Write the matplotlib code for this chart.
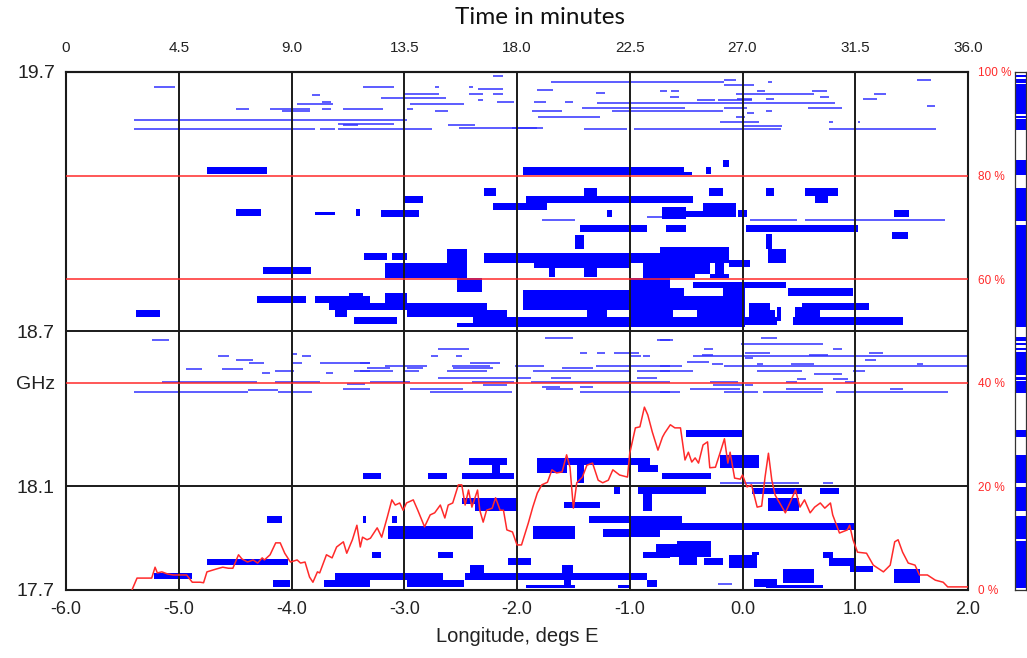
import matplotlib
matplotlib.use('Agg')
import matplotlib.pyplot as plt
import numpy as np

# ---------------- data ----------------
# thick occupancy blocks: (lon_start, lon_end, GHz_low, GHz_high)
upper_bars = [
    (-4.75, -4.22, 19.306, 19.333), (-1.95, -0.52, 19.302, 19.333), (-0.55, -0.45, 19.302, 19.314),
    (-0.32, -0.28, 19.306, 19.333), (-0.17, -0.12, 19.333, 19.360), (-2.29, -2.19, 19.221, 19.252),
    (-1.41, -1.29, 19.221, 19.252), (-0.30, -0.17, 19.221, 19.252), (0.21, 0.28, 19.221, 19.252),
    (0.55, 0.85, 19.221, 19.252), (0.64, 0.76, 19.194, 19.221), (-3.00, -2.83, 19.194, 19.221),
    (-1.92, -0.44, 19.194, 19.221), (-2.21, -1.73, 19.167, 19.194), (-3.21, -2.87, 19.140, 19.167),
    (-4.49, -4.27, 19.144, 19.171), (-3.79, -3.61, 19.148, 19.160), (-3.43, -3.39, 19.144, 19.171),
    (-1.20, -1.16, 19.140, 19.167), (-0.71, -0.50, 19.132, 19.179), (-0.50, -0.35, 19.140, 19.163),
    (-0.35, -0.06, 19.140, 19.194), (-0.04, 0.04, 19.140, 19.167), (1.34, 1.48, 19.140, 19.167),
    (-1.44, -0.85, 19.082, 19.109), (-0.68, -0.50, 19.082, 19.109), (0.03, 1.02, 19.082, 19.109),
    (1.33, 1.47, 19.055, 19.082), (0.21, 0.26, 19.017, 19.075), (0.23, 0.39, 18.963, 19.017),
    (-1.49, -1.41, 19.017, 19.071), (-3.36, -3.15, 18.974, 19.001), (-3.11, -2.98, 18.974, 19.001),
    (-2.62, -2.44, 18.905, 19.017), (-3.17, -2.44, 18.905, 18.963), (-4.25, -3.83, 18.920, 18.947),
    (-2.29, -0.52, 18.963, 19.001), (-0.73, -0.12, 18.963, 19.024), (-0.12, 0.07, 18.947, 18.974),
    (-1.85, -1.00, 18.943, 18.963), (-1.72, -1.66, 18.909, 18.943), (-1.41, -1.29, 18.909, 18.943),
    (-0.88, -0.64, 18.905, 18.963), (-0.64, -0.29, 18.920, 18.963), (-0.24, -0.16, 18.920, 18.963),
    (-0.73, -0.42, 18.905, 18.920), (-0.29, -0.12, 18.905, 18.920), (-2.53, -2.31, 18.851, 18.905),
    (-1.00, -0.64, 18.715, 18.905), (-0.44, 0.39, 18.866, 18.889), (-0.73, 0.02, 18.781, 18.835),
    (-0.73, -0.52, 18.835, 18.866), (-0.17, 0.02, 18.835, 18.866), (-0.73, -0.62, 18.754, 18.781),
    (-0.40, 0.02, 18.754, 18.781), (-0.73, 0.02, 18.715, 18.754), (-1.95, -1.00, 18.781, 18.858),
    (-1.38, -1.20, 18.754, 18.781), (-2.39, -0.64, 18.715, 18.754), (-2.53, -2.39, 18.715, 18.731),
    (-3.39, -2.98, 18.781, 18.808), (-3.17, -2.98, 18.808, 18.847), (-3.06, -2.27, 18.781, 18.808),
    (-2.98, -2.09, 18.754, 18.781), (-3.39, -3.06, 18.727, 18.754), (-4.31, -3.87, 18.808, 18.835),
    (-3.79, -3.30, 18.808, 18.835), (-3.67, -3.30, 18.781, 18.808), (-3.61, -3.51, 18.754, 18.781),
    (-3.49, -3.37, 18.835, 18.847), (-3.45, -3.30, 18.727, 18.754), (-5.38, -5.17, 18.754, 18.781),
    (0.40, 0.98, 18.835, 18.866), (0.06, 0.24, 18.754, 18.808), (0.24, 0.29, 18.723, 18.781),
    (0.31, 0.34, 18.739, 18.793), (0.53, 1.12, 18.781, 18.808), (0.47, 0.69, 18.723, 18.793),
    (0.45, 1.42, 18.723, 18.754), (0.00, 0.31, 18.723, 18.754),
]

lower_bars = [
    (-0.50, 0.00, 18.291, 18.318), (-0.20, 0.15, 18.171, 18.221), (-2.43, -2.09, 18.183, 18.210),
    (-2.22, -2.15, 18.152, 18.183), (-3.37, -3.21, 18.129, 18.152), (-2.79, -2.62, 18.129, 18.152),
    (-2.49, -2.03, 18.129, 18.152), (-1.82, -0.82, 18.183, 18.210), (-1.82, -1.56, 18.152, 18.183),
    (-0.93, -0.75, 18.156, 18.183), (-1.47, -1.41, 18.113, 18.183), (-0.71, -0.28, 18.129, 18.152),
    (-2.37, -2.00, 18.005, 18.055), (-2.49, -2.37, 18.032, 18.055), (-1.58, -1.26, 18.017, 18.040),
    (-1.14, -1.09, 18.071, 18.098), (-0.93, -0.32, 18.071, 18.098), (-0.88, -0.80, 18.005, 18.071),
    (0.08, 0.53, 18.071, 18.094), (0.69, 0.86, 18.071, 18.094), (0.23, 0.50, 18.005, 18.055),
    (-3.37, -3.34, 17.959, 17.986), (-3.11, -3.06, 17.959, 17.986), (-4.22, -4.08, 17.959, 17.986),
    (-3.14, -2.39, 17.897, 17.947), (-1.86, -1.49, 17.897, 17.947), (-1.36, -0.54, 17.959, 17.986),
    (-1.00, 1.01, 17.932, 17.959), (-1.24, -0.73, 17.905, 17.936), (-0.73, -0.28, 17.827, 17.878),
    (-0.58, -0.28, 17.878, 17.889), (-0.56, -0.40, 17.797, 17.827), (-0.34, -0.17, 17.797, 17.824),
    (-0.12, 0.13, 17.785, 17.835), (0.08, 0.15, 17.835, 17.847), (0.71, 0.80, 17.824, 17.847),
    (0.77, 1.01, 17.793, 17.824), (0.95, 1.16, 17.769, 17.793), (0.36, 0.63, 17.727, 17.781),
    (1.34, 1.57, 17.727, 17.781), (0.10, 0.31, 17.712, 17.742), (0.21, 0.71, 17.708, 17.719),
    (-3.29, -3.21, 17.824, 17.847), (-2.70, -2.57, 17.824, 17.847), (-2.08, -1.88, 17.797, 17.824),
    (-0.77, -0.64, 17.847, 17.878), (-0.88, -0.64, 17.824, 17.847), (-4.75, -4.03, 17.797, 17.820),
    (-5.22, -4.88, 17.742, 17.766), (-4.16, -4.01, 17.712, 17.739), (-3.71, -3.30, 17.712, 17.739),
    (-3.61, -3.30, 17.739, 17.766), (-3.39, -2.98, 17.739, 17.766), (-2.98, -2.66, 17.712, 17.766),
    (-2.66, -2.47, 17.712, 17.739), (-2.46, -2.29, 17.739, 17.766), (-2.42, -2.29, 17.766, 17.797),
    (-2.29, -1.00, 17.739, 17.766), (-1.60, -1.50, 17.766, 17.797), (-1.00, -0.85, 17.739, 17.766),
    (-0.85, -0.76, 17.712, 17.739), (-1.92, -1.49, 17.708, 17.719), (-1.58, -1.52, 17.719, 17.739),
    (-1.10, -1.00, 17.708, 17.719),
]

# thin (narrow-band) carriers: (lon_start, lon_end, GHz)
upper_lines = [
    (-5.22, -5.03, 19.642), (-3.82, -3.75, 19.611), (-3.95, -3.63, 19.576), (-3.73, -3.65, 19.584),
    (-4.49, -4.38, 19.557), (-4.19, -3.84, 19.557), (-4.08, -3.84, 19.549), (-3.73, -3.65, 19.557),
    (-3.54, -3.19, 19.557), (-5.40, -2.98, 19.515), (-3.59, -3.09, 19.499), (-3.54, -3.41, 19.495),
    (-5.40, -3.79, 19.480), (-3.75, -3.61, 19.480), (-3.59, -2.75, 19.480), (-2.21, -2.12, 19.685),
    (-1.70, -0.16, 19.661), (-0.16, -0.06, 19.669), (-3.37, -3.09, 19.642), (-2.73, -2.69, 19.642),
    (-2.43, -2.39, 19.642), (-2.35, -2.12, 19.634), (-1.82, -1.68, 19.631), (-1.30, -1.22, 19.619),
    (-3.00, -2.69, 19.615), (-2.43, -2.30, 19.615), (-2.21, -2.12, 19.615), (-3.21, -2.63, 19.600),
    (-2.35, -2.30, 19.592), (-2.18, -2.03, 19.584), (-1.85, -1.74, 19.584), (-1.57, -1.50, 19.584),
    (-1.29, 0.82, 19.580), (-2.95, -2.47, 19.576), (-1.42, -0.51, 19.561), (-2.98, -2.92, 19.557),
    (-2.73, -2.61, 19.549), (-1.87, -1.60, 19.549), (-1.16, -0.17, 19.549), (-1.81, -1.26, 19.526),
    (-2.61, -2.37, 19.495), (-2.51, -1.77, 19.484), (-2.04, -1.82, 19.484), (-1.41, -1.02, 19.480),
    (-0.96, 0.34, 19.480), (0.23, 0.26, 19.661), (1.55, 1.67, 19.669), (-0.16, 0.10, 19.650),
    (-0.73, -0.67, 19.627), (-0.63, -0.56, 19.627), (0.13, 0.20, 19.627), (0.62, 0.75, 19.627),
    (-0.06, 0.63, 19.615), (1.17, 1.27, 19.615), (-0.64, -0.56, 19.603), (0.69, 0.77, 19.603),
    (-0.05, 0.08, 19.596), (0.21, 0.28, 19.596), (1.07, 1.19, 19.596), (-0.40, -0.24, 19.592),
    (-0.22, 0.08, 19.592), (1.64, 1.71, 19.569), (-0.16, 0.04, 19.561), (0.58, 0.88, 19.561),
    (0.04, 0.10, 19.542), (0.21, 0.26, 19.549), (-0.06, 0.02, 19.526), (-0.20, 0.15, 19.507),
    (0.77, 0.80, 19.507), (1.02, 1.04, 19.507), (0.00, 0.35, 19.491), (0.77, 1.72, 19.480),
    (0.07, 0.48, 19.129), (0.55, 1.80, 19.129), (-1.78, -1.49, 19.129), (-0.85, -0.71, 19.140),
]

lower_lines = [
    (-5.24, -5.09, 18.665), (-4.65, -4.55, 18.603), (-4.49, -4.34, 18.588), (-4.38, -4.24, 18.576),
    (-4.94, -4.79, 18.553), (-4.62, -4.43, 18.553), (-4.26, -4.19, 18.538), (-4.15, -3.98, 18.546),
    (-4.00, -3.95, 18.611), (-3.91, -3.83, 18.603), (-3.99, -3.91, 18.576), (-3.75, -3.30, 18.576),
    (-3.69, -3.63, 18.538), (-3.45, -3.30, 18.546), (-5.15, -4.31, 18.503), (-4.15, -3.75, 18.503),
    (-3.51, -3.35, 18.495), (-5.40, -4.39, 18.465), (-4.39, -4.12, 18.472), (-4.12, -3.82, 18.465),
    (-3.54, -3.30, 18.476), (-1.75, -1.50, 18.673), (-0.76, -0.64, 18.665), (-2.70, -2.43, 18.631),
    (-1.44, -1.38, 18.615), (-1.29, -1.22, 18.615), (-1.14, -0.92, 18.615), (-2.76, -2.70, 18.603),
    (-2.54, -2.49, 18.603), (-0.99, -0.90, 18.603), (-0.88, -0.82, 18.603), (-3.39, -3.30, 18.576),
    (-2.42, -2.15, 18.576), (-3.17, -2.80, 18.565), (-2.58, -2.24, 18.565), (-2.02, -1.76, 18.565),
    (-1.30, -0.64, 18.565), (-3.33, -3.13, 18.557), (-2.98, -2.83, 18.557), (-2.57, -2.21, 18.557),
    (-1.60, -1.33, 18.557), (-3.39, -3.10, 18.546), (-3.01, -2.87, 18.546), (-2.62, -2.27, 18.546),
    (-1.86, -1.00, 18.546), (-0.94, -0.64, 18.546), (-2.70, -1.88, 18.519), (-1.70, -1.52, 18.519),
    (-0.94, -0.76, 18.519), (-3.30, -2.95, 18.503), (-2.40, -2.03, 18.503), (-1.88, -0.64, 18.503),
    (-2.30, -2.09, 18.492), (-1.78, -1.62, 18.484), (-1.44, -1.33, 18.484), (-2.95, -2.48, 18.476),
    (-1.74, -1.50, 18.476), (-2.77, -2.04, 18.465), (-1.44, -0.64, 18.465), (0.16, 0.31, 18.673),
    (-0.73, -0.62, 18.665), (-0.01, 0.71, 18.650), (-0.34, -0.26, 18.631), (0.80, 0.88, 18.631),
    (0.02, 0.24, 18.615), (1.12, 1.25, 18.615), (-0.36, -0.26, 18.607), (0.59, 0.76, 18.607),
    (-0.44, 2.00, 18.603), (0.02, 0.09, 18.596), (1.09, 1.18, 18.588), (-0.49, -0.30, 18.580),
    (-0.27, -0.17, 18.573), (0.13, 0.18, 18.573), (0.43, 0.63, 18.573), (1.55, 1.60, 18.573),
    (-0.73, -0.54, 18.565), (-0.16, 2.00, 18.565), (-0.73, -0.44, 18.546), (0.13, 0.53, 18.546),
    (0.98, 1.09, 18.546), (0.63, 0.88, 18.534), (0.48, 0.56, 18.515), (0.80, 0.94, 18.515),
    (-0.29, -0.04, 18.503), (0.39, 0.48, 18.503), (0.91, 1.00, 18.503), (-0.26, 0.00, 18.492),
    (0.02, 0.09, 18.492), (-0.47, -0.02, 18.476), (0.39, 0.71, 18.476), (1.31, 1.42, 18.476),
    (-0.73, -0.55, 18.465), (-0.16, 0.14, 18.465), (0.18, 0.71, 18.465), (0.83, 1.82, 18.465),
    (-0.20, 0.50, 18.115), (0.71, 0.80, 18.115), (-0.22, -0.09, 17.725),
]

# red occupancy profile (right axis, %)
red_lon = [
    -5.415, -5.37, -5.24, -5.21, -5.19, -5.15, -5.10, -5.05, -4.93, -4.88,
    -4.81, -4.78, -4.75, -4.66, -4.61, -4.56, -4.52, -4.47, -4.44, -4.39,
    -4.34, -4.30, -4.26, -4.24, -4.19, -4.14, -4.10, -4.06, -4.01, -3.95,
    -3.92, -3.88, -3.84, -3.81, -3.77, -3.75, -3.69, -3.64, -3.60, -3.54,
    -3.51, -3.46, -3.42, -3.39, -3.37, -3.33, -3.30, -3.24, -3.20, -3.15,
    -3.11, -3.08, -3.04, -3.01, -2.98, -2.92, -2.88, -2.82, -2.77, -2.73,
    -2.68, -2.64, -2.61, -2.57, -2.52, -2.49, -2.46, -2.43, -2.40, -2.37,
    -2.35, -2.33, -2.30, -2.27, -2.22, -2.19, -2.15, -2.12, -2.09, -2.04,
    -2.00, -1.96, -1.90, -1.86, -1.82, -1.78, -1.73, -1.69, -1.65, -1.60,
    -1.56, -1.53, -1.50, -1.47, -1.42, -1.38, -1.33, -1.28, -1.24, -1.19,
    -1.15, -1.09, -1.02, -1.00, -0.95, -0.91, -0.87, -0.84, -0.80, -0.75,
    -0.71, -0.69, -0.64, -0.60, -0.55, -0.51, -0.48, -0.45, -0.42, -0.39,
    -0.35, -0.31, -0.29, -0.24, -0.20, -0.16, -0.13, -0.11, -0.07, -0.02,
    0.00, 0.04, 0.08, 0.13, 0.17, 0.20, 0.23, 0.26, 0.29, 0.33,
    0.38, 0.42, 0.47, 0.51, 0.55, 0.60, 0.64, 0.69, 0.73, 0.78,
    0.80, 0.86, 0.93, 0.95, 0.98, 1.02, 1.10, 1.16, 1.25, 1.31,
    1.35, 1.38, 1.42, 1.47, 1.53, 1.57, 1.64, 1.71, 1.78, 1.82,
    2.00,
]
red_pct = [
    0.0, 2.3, 2.3, 4.4, 3.3, 3.5, 3.1, 2.9, 2.9, 1.5,
    1.5, 1.4, 3.5, 4.1, 4.4, 4.2, 4.2, 6.8, 6.0, 5.4,
    5.8, 5.2, 6.2, 5.8, 6.8, 9.1, 9.1, 7.1, 5.4, 5.8,
    5.2, 5.4, 2.5, 1.5, 3.5, 3.3, 6.8, 6.2, 8.3, 9.3,
    7.1, 9.7, 12.5, 8.3, 10.2, 9.7, 10.0, 12.0, 10.2, 14.1,
    17.4, 16.4, 16.8, 15.4, 16.8, 17.4, 15.4, 12.2, 14.5, 14.9,
    16.4, 13.9, 16.4, 16.8, 20.3, 20.3, 16.4, 19.3, 16.0, 18.0,
    19.3, 15.4, 13.1, 15.4, 15.8, 17.8, 15.4, 15.4, 11.6, 11.2,
    8.7, 8.7, 12.9, 16.0, 18.7, 20.3, 20.8, 23.2, 22.6, 22.8,
    26.1, 23.7, 15.8, 20.7, 21.8, 24.1, 24.5, 21.2, 20.7, 21.2,
    23.2, 22.2, 21.8, 26.4, 31.3, 31.5, 35.3, 33.8, 30.5, 27.0,
    29.5, 30.3, 31.9, 31.3, 31.3, 25.1, 26.6, 24.7, 25.5, 24.5,
    28.0, 28.6, 23.6, 23.7, 26.4, 29.2, 24.5, 26.6, 21.6, 21.4,
    22.2, 19.9, 20.3, 16.0, 16.2, 21.8, 26.4, 21.2, 18.3, 16.8,
    14.9, 16.8, 19.3, 16.0, 17.4, 14.9, 16.0, 16.8, 15.8, 16.8,
    14.5, 11.0, 11.6, 12.5, 9.7, 7.3, 7.1, 4.8, 3.5, 4.8,
    9.3, 9.7, 7.3, 5.2, 4.8, 2.9, 2.9, 1.9, 1.5, 0.6,
    0.6,
]

lon_ticks = [-6.0, -5.0, -4.0, -3.0, -2.0, -1.0, 0.0, 1.0, 2.0]
time_ticks = [0, 4.5, 9.0, 13.5, 18.0, 22.5, 27.0, 31.5, 36.0]
time_labels = ['0', '4.5', '9.0', '13.5', '18.0', '22.5', '27.0', '31.5', '36.0']
freq_ticks = [17.7, 18.1, 18.5, 18.7, 19.7]
freq_labels = ['17.7', '18.1', 'GHz', '18.7', '19.7']
pct_ticks = [0, 20, 40, 60, 80, 100]
pct_labels = ['0 %', '20 %', '40 %', '60 %', '80 %', '100 %']
red_grid = [40, 60, 80]
black_hgrid = [18.1, 18.7]

BLUE = '#0000ff'
LBLUE = '#3030ff'
RED = '#ff2a2a'

# ---------------- figure ----------------
W, H = 1027, 658
fig = plt.figure(figsize=(W / 100, H / 100), dpi=100)
ax = fig.add_axes([66 / W, 1 - 590 / H, 902 / W, 518 / H])
ax.set_xlim(-6, 2)
ax.set_ylim(17.7, 19.7)

bars = upper_bars + lower_bars
bx0 = np.array([b[0] for b in bars]); bx1 = np.array([b[1] for b in bars])
by0 = np.array([b[2] for b in bars]); by1 = np.array([b[3] for b in bars])
ax.bar(bx0, by1 - by0, width=bx1 - bx0, bottom=by0, align='edge',
       color=BLUE, linewidth=0, zorder=2)

lines = upper_lines + lower_lines
ax.hlines([l[2] for l in lines], [l[0] for l in lines], [l[1] for l in lines],
          colors=LBLUE, linewidth=1.1, zorder=2)

ax.vlines(lon_ticks[1:-1], 17.7, 19.7, colors='#1a1a1a', linewidth=1.4, zorder=3)
ax.hlines(black_hgrid, -6, 2, colors='#1a1a1a', linewidth=1.4, zorder=3)

ax.set_xticks(lon_ticks)
ax.set_xticklabels([f'{v:.1f}' for v in lon_ticks])
ax.set_yticks(freq_ticks)
ax.set_yticklabels(freq_labels)
ax.tick_params(axis='x', length=0, labelsize=13, colors='#222222', pad=8)
ax.tick_params(axis='y', length=0, labelsize=14, colors='#222222', pad=8)
for lab in ax.get_xticklabels() + ax.get_yticklabels():
    lab.set_family(['Liberation Sans', 'DejaVu Sans'])
for s in ax.spines.values():
    s.set_linewidth(1.5)
    s.set_color('#1a1a1a')

# right percentage axis with red profile
ax2 = ax.twinx()
ax2.set_ylim(0, 100)
for p in red_grid:
    ax2.axhline(p, color=RED, linewidth=1.1, zorder=3)
ax2.plot(red_lon, red_pct, color=RED, linewidth=1.1, zorder=4)
ax2.set_yticks(pct_ticks)
ax2.set_yticklabels(pct_labels)
ax2.tick_params(axis='y', length=0, labelsize=8.5, colors=RED, pad=7)
for lab in ax2.get_yticklabels():
    lab.set_family(['Liberation Sans', 'DejaVu Sans'])
for s in ax2.spines.values():
    s.set_visible(False)

# top time axis
sec = ax.secondary_xaxis('top', functions=(lambda x: (x + 6) * 4.5, lambda t: t / 4.5 - 6))
sec.set_xticks(time_ticks)
sec.set_xticklabels(time_labels)
sec.tick_params(length=0, pad=12, labelsize=11, colors='#222222')
for lab in sec.get_xticklabels():
    lab.set_family(['Liberation Sans Narrow', 'Liberation Sans', 'DejaVu Sans'])
sec.spines['top'].set_linewidth(1.5)
sec.spines['top'].set_color('#555555')

fig.text(540 / W, 1 - 18 / H, 'Time in minutes', ha='center', va='center',
         fontsize=17.5, family=['Lato', 'DejaVu Sans'], color='#111111')
fig.text(517 / W, 1 - 637 / H, 'Longitude, degs E', ha='center', va='center',
         fontsize=14.5, family=['Liberation Sans', 'DejaVu Sans'], color='#222222')

# right-hand frequency occupancy strip (union of all occupied frequencies)
intervals = [(b[2], b[3]) for b in bars] + [(l[2] - 0.003, l[2] + 0.003) for l in lines]
intervals.sort()
merged = []
for lo, hi in intervals:
    if merged and lo <= merged[-1][1] + 0.0005:
        merged[-1][1] = max(merged[-1][1], hi)
    else:
        merged.append([lo, hi])
axs = fig.add_axes([1015 / W, 1 - 590 / H, 11 / W, 518 / H])
axs.set_xlim(0, 1)
axs.set_ylim(17.7, 19.7)
axs.barh([m[0] for m in merged], 1, height=[m[1] - m[0] for m in merged], left=0,
         align='edge', color=BLUE, linewidth=0)
axs.set_xticks([]); axs.set_yticks([])
for s in axs.spines.values():
    s.set_linewidth(0.9)
    s.set_color('#333333')

fig.savefig('out.png', dpi=100)
